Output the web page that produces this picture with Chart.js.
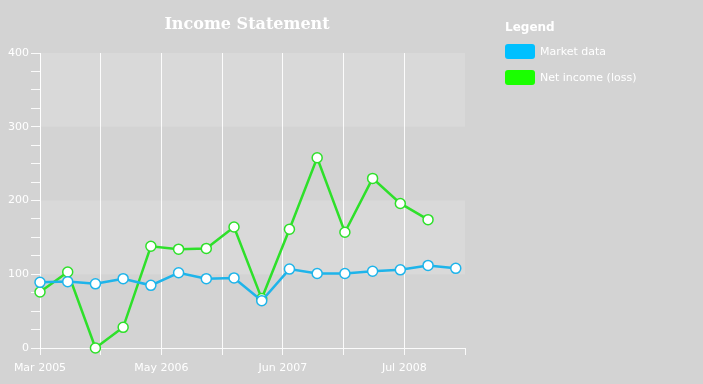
<!DOCTYPE html>
<html lang="en">
<head>
    <meta charset="UTF-8">
    <title>Income Statement</title>
    <script src="https://cdn.jsdelivr.net/npm/chart.js"></script>
    <style>
        html, body { margin: 0; padding: 0; background: #d3d3d3; }
        #wrap { position: relative; width: 703px; height: 384px; overflow: hidden; }
        #chartBox { position: absolute; left: 0; top: 0; width: 703px; height: 384px; }
        #title { position: absolute; left: 0; top: 14px; width: 494px; text-align: center;
                 font: bold 16px "DejaVu Serif", serif; color: #fff; }
        #legend { position: absolute; left: 505px; top: 20px; font-family: "DejaVu Sans", sans-serif; color: #fff; }
        #legend .head { font-weight: bold; font-size: 12px; margin-bottom: 10px; }
        #legend .item { display: flex; align-items: center; height: 15px; margin-bottom: 11px; font-size: 11px; }
        #legend .box { width: 30px; height: 15px; border-radius: 3px; margin-right: 5px; }
    </style>
</head>
<body>
    <div id="wrap">
        <div id="chartBox"><canvas id="chart"></canvas></div>
        <div id="title">Income Statement</div>
        <div id="legend">
            <div class="head">Legend</div>
            <div class="item"><div class="box" style="background:#00c0ff"></div>Market data</div>
            <div class="item"><div class="box" style="background:#1aff00"></div>Net income (loss)</div>
        </div>
    </div>

    <script>
        // quarterly periods, Mar 2005 .. Dec 2008
        const quarters = ['2005-03', '2005-06', '2005-09', '2005-12', '2006-03', '2006-06', '2006-09', '2006-12',
                          '2007-03', '2007-06', '2007-09', '2007-12', '2008-03', '2008-06', '2008-09', '2008-12'];
        const marketData = [89, 90, 87, 94, 85, 102, 94, 95, 64, 107, 101, 101, 104, 106, 112, 108];
        const netIncome = [76, 103, 0, 28, 138, 134, 135, 164, 67, 161, 258, 157, 230, 196, 174];
        const xTickLabels = ['Mar 2005', '', 'May 2006', '', 'Jun 2007', '', 'Jul 2008', ''];
        const xMaxMonths = 46;

        function monthsFromStart(q) {
            const [y, m] = q.split('-').map(Number);
            return (y - 2005) * 12 + (m - 3);
        }

        function toPoints(values) {
            return values.map((v, i) => ({ x: monthsFromStart(quarters[i]), y: v }));
        }

        // lighter bands behind 100-200 and 300-400
        const bandPlugin = {
            id: 'bands',
            beforeDraw(chart) {
                const { ctx, chartArea, scales } = chart;
                ctx.save();
                ctx.fillStyle = '#d9d9d9';
                [[100, 200], [300, 400]].forEach(([lo, hi]) => {
                    const top = scales.y.getPixelForValue(hi);
                    const bottom = scales.y.getPixelForValue(lo);
                    ctx.fillRect(chartArea.left, top, chartArea.right - chartArea.left, bottom - top);
                });
                ctx.restore();
            }
        };

        const white = 'rgba(255,255,255,0.9)';
        const tickFont = { family: 'DejaVu Sans', size: 11 };

        new Chart(document.getElementById('chart'), {
            type: 'line',
            data: {
                datasets: [{
                    label: 'Market data',
                    data: toPoints(marketData),
                    borderColor: '#1eb4ea',
                    borderWidth: 2.5,
                    pointBackgroundColor: '#ffffff',
                    pointBorderColor: '#1eb4ea',
                    pointBorderWidth: 1.5,
                    pointRadius: 5,
                    clip: false
                }, {
                    label: 'Net income (loss)',
                    data: toPoints(netIncome),
                    borderColor: '#2ee02a',
                    borderWidth: 2.5,
                    pointBackgroundColor: '#ffffff',
                    pointBorderColor: '#2ee02a',
                    pointBorderWidth: 1.5,
                    pointRadius: 5,
                    clip: false
                }]
            },
            options: {
                responsive: true,
                maintainAspectRatio: false,
                animation: false,
                layout: { padding: { top: 53, right: 238, left: 0, bottom: 0 } },
                plugins: { legend: { display: false }, title: { display: false }, tooltip: { enabled: false } },
                scales: {
                    x: {
                        type: 'linear',
                        min: 0,
                        max: xMaxMonths,
                        afterFit(scale) { scale.height = 36; },
                        afterBuildTicks(scale) {
                            scale.ticks = xTickLabels.map((_, i) => ({ value: i * xMaxMonths / (xTickLabels.length - 1) }));
                        },
                        ticks: {
                            color: '#fff',
                            font: tickFont,
                            maxRotation: 0,
                            autoSkip: false,
                            padding: 7,
                            callback: (v, i) => xTickLabels[i]
                        },
                        grid: {
                            color: ctx => ctx.index === xTickLabels.length - 1 ? 'transparent' : white,
                            tickColor: white,
                            tickLength: 7,
                            lineWidth: 1
                        },
                        border: { color: white, width: 1 }
                    },
                    y: {
                        min: 0,
                        max: 400,
                        afterFit(scale) { scale.width = 40; },
                        ticks: {
                            stepSize: 25,
                            color: '#fff',
                            font: tickFont,
                            padding: 2,
                            autoSkip: false,
                            callback: v => (v % 100 === 0 ? v : '')
                        },
                        grid: {
                            drawOnChartArea: false,
                            tickColor: white,
                            tickLength: 9
                        },
                        border: { color: white, width: 1 }
                    }
                }
            },
            plugins: [bandPlugin]
        });
    </script>
</body>
</html>
